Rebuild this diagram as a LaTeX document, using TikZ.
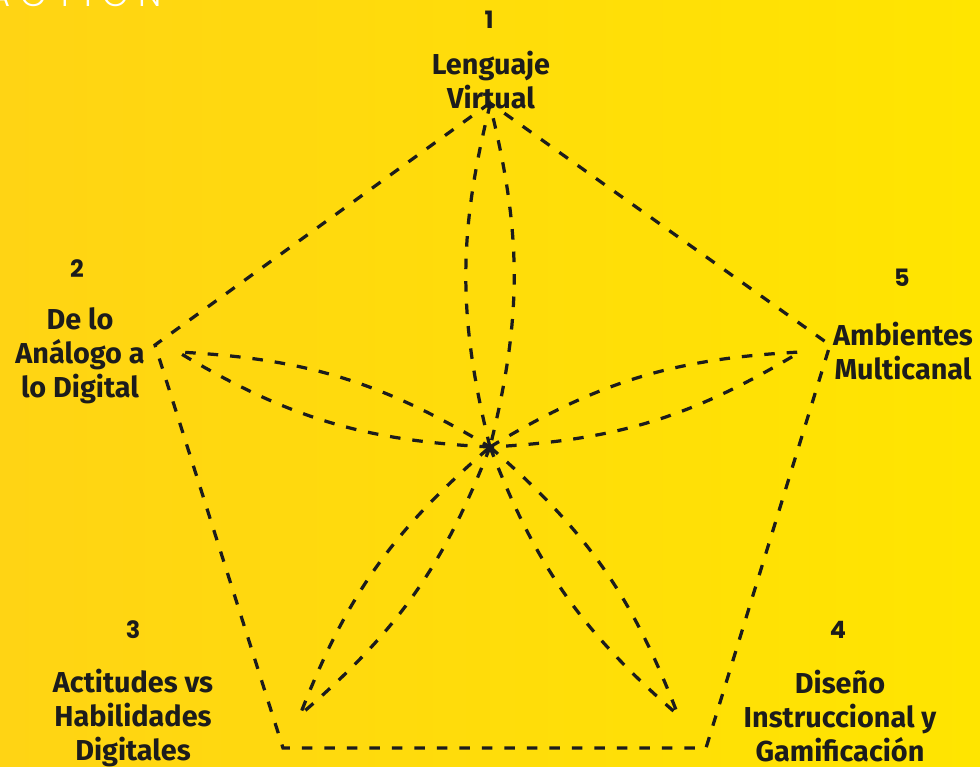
\documentclass[tikz,border=0pt]{standalone}
\usepackage{fontspec}
\setmainfont{Fira Sans}
\newfontfamily\numfont{Poppins}
\newfontfamily\thinfont[LetterSpace=30]{Poppins Light}
\definecolor{ink}{HTML}{1C1C1C}
\definecolor{yleft}{HTML}{FFD414}
\definecolor{yright}{HTML}{FFE500}
\tikzset{
  dash line/.style={line width=2.3pt, ink, dash pattern=on 7.5pt off 8.5pt},
  topic/.style={align=center, text=ink, font=\bfseries\fontsize{20.5}{24}\selectfont},
  num/.style={text=ink, font=\numfont\bfseries\fontsize{17}{18}\selectfont}
}
\begin{document}
\begin{tikzpicture}[x=0.025cm, y=-0.025cm]

\clip (0, 0) rectangle (980, 767);
\shade[left color=yleft, right color=yright] (0, 0) rectangle (980, 767);
\node[anchor=base west, text=white, font=\thinfont\fontsize{24}{24}\selectfont, inner sep=0] (brand) at (-12, 7) {ACTION};

\coordinate (c) at (490, 447);
\coordinate (v1) at (490, 103);
\coordinate (v2) at (155, 345);
\coordinate (v3) at (283, 748);
\coordinate (v4) at (706, 748);
\coordinate (v5) at (830, 345);

\draw[dash line] (v1) -- (v2) -- (v3) -- (v4) -- (v5) -- cycle;

\coordinate (p1) at (490, 105);
\coordinate (p2) at (178, 352);
\coordinate (p3) at (300, 715);
\coordinate (p4) at (678, 715);
\coordinate (p5) at (800, 352);
\foreach \p in {p1, p2, p3, p4, p5}
\draw[dash line] (c) to[bend left=14] (\p) to[bend left=14] (c);

\node[num] (n1) at (489, 20) {1};
\node[num] (n2) at (77, 269) {2};
\node[num] (n3) at (133, 630) {3};
\node[num] (n4) at (838, 630) {4};
\node[num] (n5) at (902, 278) {5};

\node[topic] (t1) at (491, 80) {Lenguaje\\Virtual};
\node[topic] (t2) at (80, 356) {De lo\\Análogo a\\lo Digital};
\node[topic] (t3) at (133, 718) {Actitudes vs\\Habilidades\\Digitales};
\node[topic] (t4) at (840, 716) {Diseño\\Instruccional y\\Gamificación};
\node[topic] (t5) at (903, 351) {Ambientes\\Multicanal};

\end{tikzpicture}
\end{document}
